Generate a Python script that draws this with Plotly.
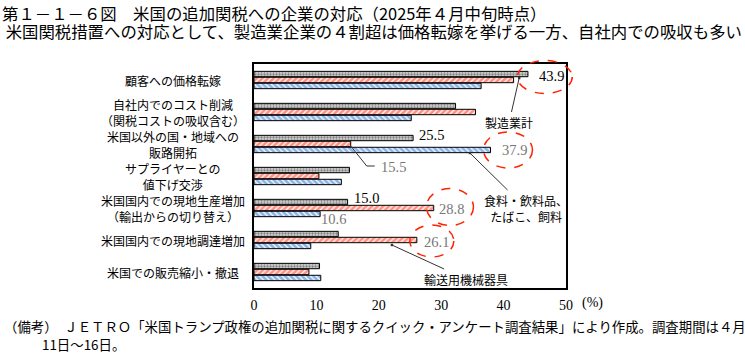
import plotly.graph_objects as go

# ---------------- data ----------------
categories = [
    "顧客への価格転嫁",
    "自社内でのコスト削減<br>（関税コストの吸収含む）",
    "米国以外の国・地域への<br>販路開拓",
    "サプライヤーとの<br>値下げ交渉",
    "米国国内での現地生産増加<br>（輸出からの切り替え）",
    "米国国内での現地調達増加",
    "米国での販売縮小・撤退",
]
series_names = ["製造業計", "輸送用機械器具", "食料・飲料品、<br>たばこ、飼料"]
manufacturing = [43.9, 32.3, 25.5, 15.3, 15.0, 13.5, 10.5]
transport = [41.6, 35.5, 15.5, 10.4, 28.8, 26.1, 8.8]
food = [36.4, 25.2, 37.9, 14.0, 10.6, 9.1, 10.7]
x_ticks = [0, 10, 20, 30, 40, 50]
x_max = 50

title1 = "第１－１－６図　米国の追加関税への企業の対応（2025年４月中旬時点）"
title2 = "米国関税措置への対応として、製造業企業の４割超は価格転嫁を挙げる一方、自社内での吸収も多い"
note1 = "（備考）　ＪＥＴＲＯ「米国トランプ政権の追加関税に関するクイック・アンケート調査結果」により作成。調査期間は４月"
note2 = "11日～16日。"

# ---------------- layout geometry ----------------
W, H = 745, 354
L, R, T, B = 254, 179, 64, 66
PW, PH = W - L - R, H - T - B
N = len(categories)


def pxx(p):
    return (p - L) / PW


def pxy(p):
    return 1 - (p - T) / PH


def cat_y(idx, shift_px=0):
    # paper y of category centre, shift in px (positive = up)
    return 1 - (idx + 0.5) / N + shift_px / PH


JP = "Noto Sans CJK JP, sans-serif"
SERIF = "Liberation Serif, serif"
RED = "#ff2200"
BLUE = "#1a66cc"

fig = go.Figure()
styles = [
    dict(shape=".", fgcolor="#333333", bgcolor="#d0d0d0", size=3, solidity=0.45),
    dict(shape="/", fgcolor=RED, bgcolor="white", size=4, solidity=0.7),
    dict(shape="\\", fgcolor=BLUE, bgcolor="white", size=4, solidity=0.7),
]
for name, vals, st in zip(series_names, [manufacturing, transport, food], styles):
    fig.add_trace(go.Bar(
        x=vals, y=categories, orientation="h", name=name,
        marker=dict(color="white", line=dict(color="black", width=1), pattern=st),
        showlegend=False, hoverinfo="x+name",
    ))

ann = []
# category labels
for c in categories:
    ann.append(dict(x=pxx(173), xref="paper", y=c, yref="y", text=c, showarrow=False,
                    xanchor="center", yanchor="middle", align="center",
                    font=dict(family=JP, size=12, color="black")))

# value labels: (series values, category index, x centre in data units, y shift px, colour)
value_labels = [
    (manufacturing, 0, 47.6, 4, "black"),
    (manufacturing, 2, 28.5, 9, "black"),
    (transport, 2, 22.3, -23, "#777777"),
    (food, 2, 41.7, -6, "#777777"),
    (manufacturing, 4, 18.1, 10, "black"),
    (transport, 4, 31.6, -1, "#777777"),
    (food, 4, 12.8, -11, "#777777"),
    (transport, 5, 29.2, -2, "#777777"),
]
for vals, idx, xc, ys, col in value_labels:
    ann.append(dict(x=xc, xref="x", y=cat_y(idx, ys), yref="paper",
                    text=f"{vals[idx]:.1f}", showarrow=False,
                    xanchor="center", yanchor="middle",
                    font=dict(family=SERIF, size=14.5, color=col)))

# series name callouts with arrows: (name idx, tip x data, cat idx, tip shift px, ax, ay)
callouts = [
    (0, 42.5, 0, 2, -10, 44),
    (2, 34.6, 2, -9, 56, 55),
    (1, 22.1, 5, -5, 74, 34),
]
for si, tx, idx, ys, axo, ayo in callouts:
    ann.append(dict(x=tx, xref="x", y=cat_y(idx, ys), yref="paper",
                    text=series_names[si], showarrow=True, arrowhead=7, arrowsize=0.6,
                    arrowwidth=1, arrowcolor="#333333", ax=axo, ay=ayo, align="center",
                    font=dict(family=JP, size=12, color="black")))

# (%) unit
ann.append(dict(x=x_max, xref="x", y=0, yref="paper", text="(%)", showarrow=False,
                xanchor="center", yanchor="middle",
                xshift=26, yshift=-15, font=dict(family=SERIF, size=14, color="black")))

# titles (one block, two lines) and notes
span = '<span style="font-size:16.4px">{}</span>'
ann.append(dict(x=pxx(1), xref="paper", y=pxy(0), yref="paper",
                text=span.format(title1) + "<br>" + span.format(" " + title2),
                showarrow=False, xanchor="left", yanchor="top", align="left", borderpad=0,
                font=dict(family=JP, size=14, color="black")))
ann.append(dict(x=pxx(2), xref="paper", y=pxy(326), yref="paper", text=note1, showarrow=False,
                xanchor="left", yanchor="middle", font=dict(family=JP, size=13.4, color="black")))
ann.append(dict(x=pxx(40), xref="paper", y=pxy(344), yref="paper", text=note2, showarrow=False,
                xanchor="left", yanchor="middle", font=dict(family=JP, size=13.4, color="black")))

shapes = []
# red dashed ellipses around highlighted values: (series, cat idx, x centre data, y shift px, w px, h px)
ellipses = [
    (manufacturing, 0, 46.6, 3, 55, 33),
    (food, 2, 40.7, -6, 49, 36),
    (transport, 4, 31.4, 1, 47, 37),
    (transport, 5, 28.5, -1, 44, 32),
]
for vals, idx, xc, ys, wpx, hpx in ellipses:
    cx, cy = xc / x_max, cat_y(idx, ys)
    shapes.append(dict(type="circle", xref="paper", yref="paper",
                       x0=cx - wpx / 2 / PW, x1=cx + wpx / 2 / PW,
                       y0=cy - hpx / 2 / PH, y1=cy + hpx / 2 / PH,
                       line=dict(color=RED, width=1.5, dash="dash")))

# bent leader line for transport value in category 2
v = transport[2]
shapes.append(dict(type="path", xref="paper", yref="paper",
                   path=f"M {v / x_max},{cat_y(2, -2)} L {v / x_max + 16 / PW},{cat_y(2, -22)} "
                        f"L {v / x_max + 24 / PW},{cat_y(2, -22)}",
                   line=dict(color="#333333", width=1)))

fig.update_layout(
    width=W, height=H, margin=dict(l=L, r=R, t=T, b=B, autoexpand=False),
    paper_bgcolor="white", plot_bgcolor="white",
    barmode="group", bargap=0.44, bargroupgap=0.1,
    annotations=ann, shapes=shapes,
    xaxis=dict(range=[0, x_max], tickvals=x_ticks, ticktext=[str(t) for t in x_ticks],
               showgrid=False, zeroline=False, showline=True, mirror=True,
               linecolor="black", linewidth=2, ticks="", ticklabelstandoff=3,
               tickfont=dict(family=SERIF, size=14, color="black")),
    yaxis=dict(type="category", autorange="reversed", showticklabels=False,
               showgrid=False, zeroline=False, showline=True, mirror=True,
               linecolor="black", linewidth=2, ticks=""),
)

fig.write_html("out.html")
